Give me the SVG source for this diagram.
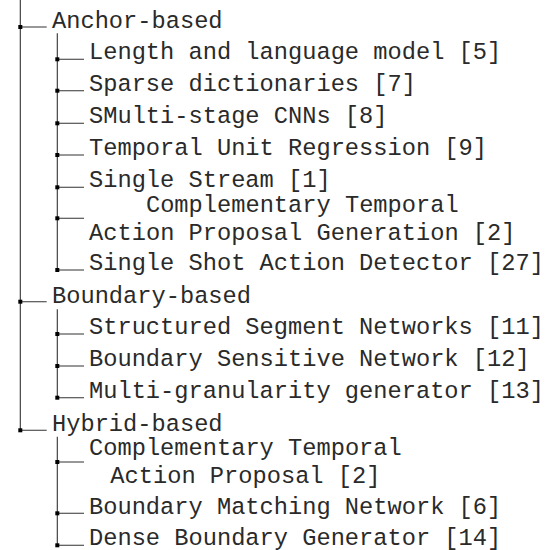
<svg xmlns="http://www.w3.org/2000/svg" width="554" height="550" viewBox="0 0 554 550">
<style>
text{font-family:"Liberation Mono","Courier New",monospace;font-size:23.7px;fill:#2a2a2a}
.c{text-anchor:middle}
.ln{stroke:#333;stroke-width:1.1;fill:none}
.sq{fill:#000}
</style>
<defs>
<rect id="dot" x="-2" y="-2" width="4" height="4" class="sq"/>
</defs>
<rect width="554" height="550" fill="#fff"/>
<g id="connectors">
<path class="ln" d="M20.3 0V430.3M57.3 33.3V270M57.3 309.3V397.7M57.3 436.7V545.3"/>
<path class="ln" d="M20.3 27H46.7M20.3 301.7H46.7M20.3 430.3H46.7"/>
<path class="ln" d="M57.3 59.3H84M57.3 90.7H84M57.3 123.3H84M57.3 155H84M57.3 187.3H84M57.3 218.3H84M57.3 270H84M57.3 334H84M57.3 366H84M57.3 397.7H84M57.3 462H84M57.3 513.3H84M57.3 545.3H84"/>
<use href="#dot" x="20.3" y="27"/>
<use href="#dot" x="20.3" y="301.7"/>
<use href="#dot" x="20.3" y="430.3"/>
<use href="#dot" x="57.3" y="59.3"/>
<use href="#dot" x="57.3" y="90.7"/>
<use href="#dot" x="57.3" y="123.3"/>
<use href="#dot" x="57.3" y="155"/>
<use href="#dot" x="57.3" y="187.3"/>
<use href="#dot" x="57.3" y="218.3"/>
<use href="#dot" x="57.3" y="270"/>
<use href="#dot" x="57.3" y="334"/>
<use href="#dot" x="57.3" y="366"/>
<use href="#dot" x="57.3" y="397.7"/>
<use href="#dot" x="57.3" y="462"/>
<use href="#dot" x="57.3" y="513.3"/>
<use href="#dot" x="57.3" y="545.3"/>
</g>
<g id="anchor"><text x="52" y="27.7">Anchor-based</text></g>
<g id="a1"><text x="89" y="59.3">Length and language model [5]</text></g>
<g id="a2"><text x="89" y="90.7">Sparse dictionaries [7]</text></g>
<g id="a3"><text x="89" y="123.3">SMulti-stage CNNs [8]</text></g>
<g id="a4"><text x="89" y="155">Temporal Unit Regression [9]</text></g>
<g id="a5"><text x="89" y="187">Single Stream [1]</text></g>
<g id="a6"><text class="c" x="302.3" y="211.7">Complementary Temporal</text><text class="c" x="302.3" y="240">Action Proposal Generation [2]</text></g>
<g id="a7"><text x="89" y="270">Single Shot Action Detector [27]</text></g>
<g id="boundary"><text x="52" y="303">Boundary-based</text></g>
<g id="b1"><text x="89" y="334">Structured Segment Networks [11]</text></g>
<g id="b2"><text x="89" y="366">Boundary Sensitive Network [12]</text></g>
<g id="b3"><text x="89" y="397.5">Multi-granularity generator [13]</text></g>
<g id="hybrid"><text x="52" y="430.5">Hybrid-based</text></g>
<g id="h1"><text class="c" x="245.4" y="455">Complementary Temporal</text><text class="c" x="245.4" y="482.7">Action Proposal [2]</text></g>
<g id="h2"><text x="89" y="514">Boundary Matching Network [6]</text></g>
<g id="h3"><text x="89" y="544.5">Dense Boundary Generator [14]</text></g>
</svg>
